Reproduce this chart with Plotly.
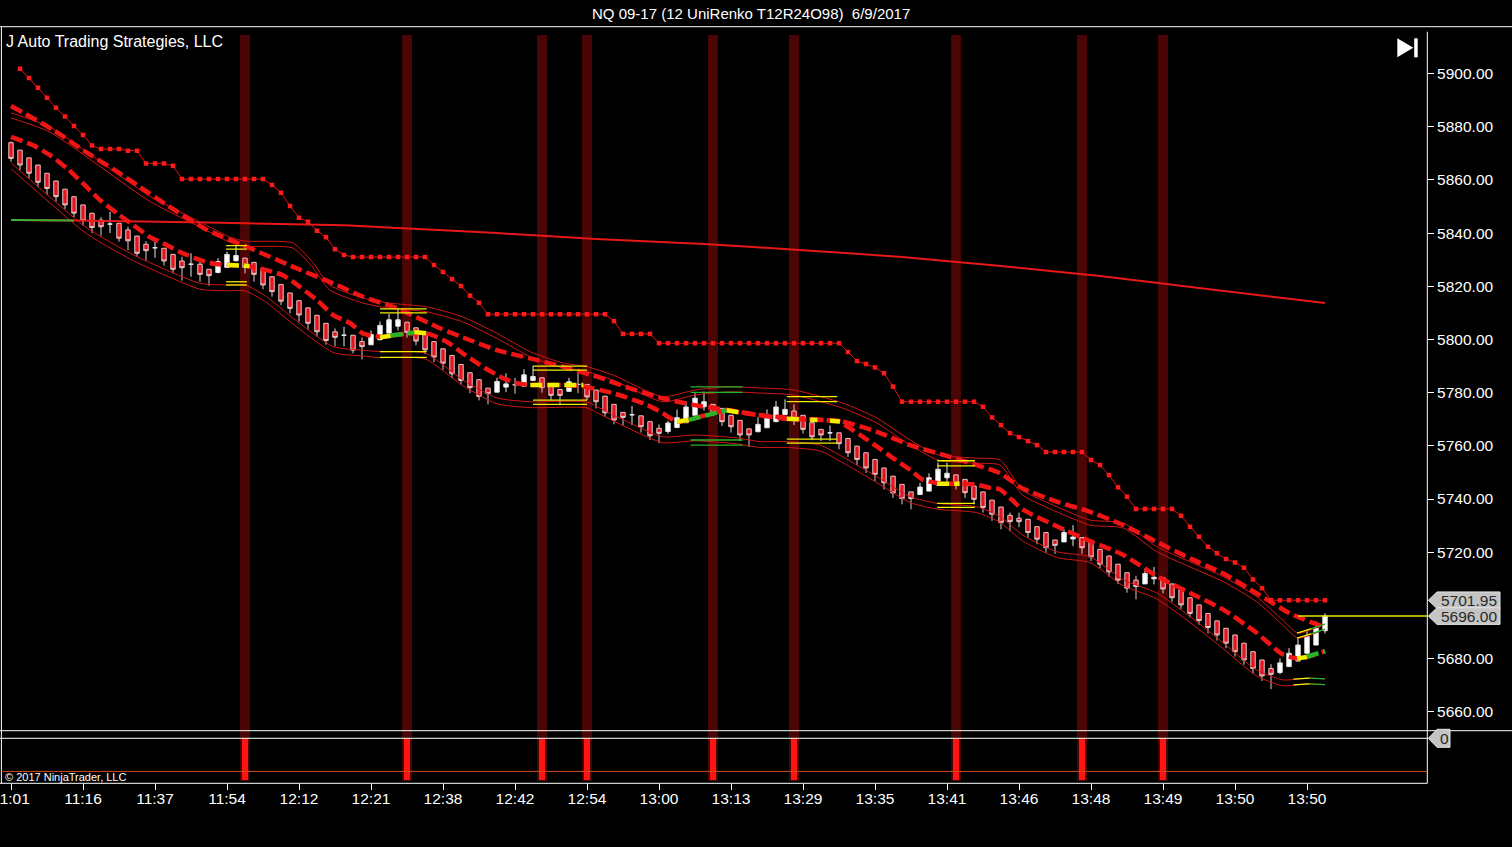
import plotly.graph_objects as go

# ------------------------------------------------------------------ data
OPEN = [5874.0, 5871.2, 5868.3, 5865.6, 5862.5, 5859.6, 5856.5, 5853.7, 5850.6, 5847.5,
        5844.9, 5843.4, 5843.7, 5841.2, 5838.9, 5835.8, 5834.5, 5834.3, 5832.0, 5829.5,
        5828.3, 5828.3, 5826.4, 5825.2, 5827.1, 5829.6, 5830.6, 5829.0, 5826.7, 5823.6,
        5820.7, 5817.5, 5814.6, 5811.9, 5809.1, 5806.1, 5802.9, 5801.6, 5801.6, 5799.2,
        5798.0, 5799.9, 5802.4, 5805.0, 5806.5, 5804.4, 5802.1, 5799.2, 5796.5, 5794.0,
        5790.6, 5787.5, 5784.9, 5781.7, 5780.2, 5782.1, 5783.0, 5782.4, 5784.6, 5785.6,
        5783.4, 5781.2, 5780.5, 5783.1, 5783.1, 5781.0, 5778.7, 5775.6, 5772.6, 5771.7,
        5771.3, 5769.1, 5766.6, 5765.4, 5766.9, 5768.7, 5771.5, 5774.7, 5775.6, 5774.1,
        5771.5, 5769.6, 5766.4, 5765.3, 5766.8, 5769.1, 5771.8, 5773.1, 5771.5, 5768.7,
        5766.2, 5764.9, 5764.9, 5762.8, 5759.9, 5757.4, 5754.9, 5751.7, 5748.6, 5745.5,
        5742.7, 5741.7, 5743.0, 5745.3, 5748.0, 5749.1, 5747.4, 5744.9, 5742.7, 5739.6,
        5737.0, 5733.9, 5732.8, 5732.4, 5729.6, 5727.4, 5724.6, 5723.9, 5725.0, 5725.5,
        5723.9, 5721.1, 5718.6, 5715.5, 5712.3, 5709.5, 5708.1, 5710.0, 5710.4, 5708.1,
        5705.8, 5702.9, 5700.2, 5697.0, 5694.2, 5691.4, 5688.9, 5685.8, 5682.6, 5679.5,
        5676.3, 5674.8, 5677.0, 5679.1, 5682.0, 5685.1, 5690.5]
HIGH = [5874.5, 5871.2, 5868.3, 5865.6, 5862.5, 5859.6, 5856.5, 5853.7, 5850.6, 5847.5,
        5846.0, 5848.0, 5843.7, 5842.4, 5838.9, 5837.0, 5838.0, 5834.3, 5832.0, 5831.1,
        5832.4, 5829.3, 5826.4, 5830.6, 5833.0, 5836.7, 5830.6, 5829.0, 5826.7, 5823.6,
        5820.7, 5817.5, 5814.6, 5811.9, 5809.1, 5806.1, 5804.2, 5804.8, 5801.6, 5800.8,
        5803.4, 5806.8, 5809.6, 5811.9, 5806.5, 5804.4, 5802.1, 5799.2, 5796.5, 5794.0,
        5790.6, 5787.5, 5784.9, 5781.7, 5785.6, 5787.3, 5785.6, 5788.8, 5790.1, 5785.6,
        5783.4, 5781.2, 5785.6, 5788.2, 5783.1, 5781.0, 5778.7, 5775.6, 5772.6, 5775.0,
        5771.3, 5769.1, 5768.1, 5769.4, 5773.7, 5776.6, 5779.8, 5780.4, 5775.6, 5774.1,
        5771.5, 5769.6, 5766.4, 5770.8, 5773.7, 5776.9, 5777.5, 5775.6, 5771.5, 5768.7,
        5766.2, 5767.7, 5764.9, 5762.8, 5759.9, 5757.4, 5754.9, 5751.7, 5748.6, 5745.5,
        5742.7, 5746.1, 5749.7, 5753.7, 5753.7, 5749.1, 5747.4, 5744.9, 5742.7, 5739.6,
        5737.0, 5734.9, 5734.9, 5732.4, 5729.6, 5727.4, 5724.6, 5728.6, 5730.2, 5725.5,
        5723.9, 5721.1, 5718.6, 5715.5, 5712.3, 5711.1, 5713.9, 5714.5, 5710.4, 5708.1,
        5705.8, 5702.9, 5700.2, 5697.0, 5694.2, 5691.4, 5688.9, 5685.8, 5682.6, 5679.5,
        5677.9, 5680.1, 5683.9, 5687.6, 5690.8, 5694.0, 5697.0]
LOW = [5866.8, 5863.7, 5860.7, 5857.4, 5854.3, 5851.8, 5849.0, 5846.0, 5842.8, 5840.0,
       5839.0, 5840.0, 5836.8, 5833.6, 5831.1, 5829.6, 5830.7, 5827.8, 5824.9, 5822.1,
       5823.6, 5821.7, 5820.2, 5824.9, 5827.1, 5829.3, 5824.9, 5821.7, 5818.9, 5816.1,
       5812.9, 5809.8, 5806.7, 5803.8, 5801.0, 5798.0, 5797.4, 5797.4, 5794.8, 5792.5,
       5798.0, 5799.9, 5802.4, 5803.4, 5800.7, 5797.8, 5794.6, 5791.5, 5788.6, 5785.5,
       5783.0, 5779.8, 5777.1, 5775.6, 5780.2, 5780.2, 5779.6, 5782.4, 5784.6, 5780.0,
       5777.1, 5775.2, 5780.5, 5779.8, 5777.2, 5774.1, 5770.9, 5768.1, 5767.6, 5767.8,
       5765.0, 5762.2, 5761.0, 5764.6, 5766.9, 5768.7, 5771.5, 5773.3, 5771.2, 5767.5,
       5765.0, 5761.8, 5759.6, 5765.3, 5766.8, 5769.1, 5771.8, 5767.8, 5764.6, 5762.1,
       5761.8, 5761.8, 5758.7, 5755.8, 5752.7, 5749.8, 5746.8, 5743.6, 5740.4, 5738.0,
       5736.1, 5741.7, 5743.0, 5745.3, 5746.8, 5743.6, 5740.4, 5738.0, 5734.9, 5731.8,
       5728.6, 5727.9, 5729.4, 5725.5, 5723.0, 5719.8, 5719.4, 5723.9, 5722.3, 5719.4,
       5716.7, 5714.0, 5710.8, 5708.0, 5704.8, 5702.3, 5708.1, 5707.9, 5704.5, 5701.4,
       5698.7, 5695.5, 5692.7, 5689.5, 5686.8, 5683.9, 5680.8, 5677.7, 5674.4, 5671.6,
       5668.5, 5674.1, 5677.0, 5679.1, 5682.0, 5685.1, 5689.5]
CLOSE = [5868.1, 5865.6, 5862.5, 5859.1, 5856.8, 5853.7, 5850.6, 5847.5, 5844.7, 5842.1,
         5842.4, 5843.4, 5838.1, 5837.1, 5832.4, 5833.4, 5834.5, 5829.5, 5826.4, 5827.0,
         5828.3, 5824.5, 5824.0, 5829.3, 5832.0, 5831.6, 5827.1, 5824.5, 5820.5, 5818.0,
         5814.4, 5811.7, 5809.2, 5806.1, 5802.9, 5799.6, 5800.8, 5801.6, 5796.0, 5797.3,
         5801.9, 5805.3, 5807.4, 5807.4, 5802.7, 5799.4, 5796.1, 5793.4, 5791.1, 5787.1,
         5784.6, 5781.9, 5778.6, 5779.6, 5784.2, 5783.3, 5783.0, 5786.7, 5786.1, 5781.9,
         5779.0, 5779.0, 5784.1, 5783.1, 5778.4, 5776.6, 5772.4, 5769.7, 5770.7, 5771.7,
         5767.2, 5763.8, 5764.7, 5768.6, 5770.6, 5774.6, 5777.9, 5776.6, 5772.5, 5769.1,
         5767.2, 5764.1, 5764.1, 5768.1, 5771.8, 5774.6, 5773.7, 5770.6, 5766.2, 5763.4,
         5764.1, 5764.9, 5760.8, 5757.4, 5754.9, 5751.7, 5749.3, 5746.1, 5742.3, 5740.2,
         5740.2, 5744.5, 5748.0, 5751.2, 5749.7, 5745.8, 5742.4, 5739.9, 5736.8, 5734.3,
         5731.1, 5731.5, 5731.5, 5727.4, 5724.9, 5721.7, 5722.6, 5727.4, 5725.7, 5721.7,
         5718.2, 5715.5, 5712.6, 5709.5, 5706.5, 5707.1, 5712.0, 5710.6, 5706.2, 5702.9,
         5700.2, 5697.0, 5694.3, 5691.7, 5688.9, 5685.8, 5682.6, 5679.5, 5676.3, 5673.5,
         5674.1, 5678.4, 5682.0, 5685.1, 5688.3, 5691.5, 5696.0]
BARS = list(range(len(CLOSE)))

# trailing stop (stepped, one value per bar)
STOP = [None, 5901.8, 5898.3, 5894.7, 5890.9, 5887.1, 5883.8, 5880.3, 5876.9, 5872.9,
        5871.6, 5871.6, 5871.6, 5871.0, 5871.0, 5866.2, 5866.2, 5866.2, 5865.3, 5860.3,
        5860.3, 5860.3, 5860.3, 5860.3, 5860.3, 5860.3, 5860.3, 5860.3, 5860.3, 5858.1,
        5855.2, 5850.2, 5845.8, 5844.3, 5840.9, 5838.4, 5833.9, 5831.8, 5831.0, 5831.0,
        5831.0, 5831.0, 5831.0, 5831.0, 5831.0, 5831.0, 5831.0, 5828.0, 5825.4, 5822.7,
        5820.1, 5816.5, 5813.8, 5809.5, 5809.5, 5809.5, 5809.5, 5809.5, 5809.5, 5809.5,
        5809.5, 5809.5, 5809.5, 5809.5, 5809.5, 5809.5, 5809.5, 5806.9, 5802.1, 5802.1,
        5802.1, 5802.1, 5798.6, 5798.6, 5798.6, 5798.6, 5798.6, 5798.6, 5798.6, 5798.6,
        5798.6, 5798.6, 5798.6, 5798.6, 5798.6, 5798.6, 5798.6, 5798.6, 5798.6, 5798.6,
        5798.6, 5798.6, 5798.6, 5795.3, 5791.9, 5790.8, 5789.5, 5787.3, 5782.3, 5776.6,
        5776.6, 5776.6, 5776.6, 5776.6, 5776.6, 5776.6, 5776.6, 5776.6, 5774.7, 5770.7,
        5767.8, 5764.8, 5763.3, 5761.8, 5760.3, 5757.7, 5757.7, 5757.7, 5757.7, 5757.7,
        5754.7, 5752.8, 5749.0, 5744.4, 5740.9, 5736.3, 5736.3, 5736.3, 5736.3, 5736.3,
        5733.7, 5729.6, 5725.8, 5722.1, 5719.6, 5717.5, 5716.1, 5714.2, 5709.8, 5706.5,
        5701.95, 5701.95, 5701.95, 5701.95, 5701.95, 5701.95, 5701.95]

# long moving average
SMA_BARS = [0, 7, 37, 43, 54, 65, 77, 88, 99, 110, 121, 132, 146]
SMA_VALS = [5844.9, 5844.7, 5843.0, 5841.9, 5840.0, 5837.8, 5835.9, 5833.6, 5831.0,
            5827.6, 5823.9, 5819.4, 5813.7]
SMA_GREEN_BARS = [0, 7]
SMA_GREEN_VALS = [5844.9, 5844.7]

# slow dashed average
SLOW_BARS = [0, 4.7, 8, 11.8, 14.3, 17.3, 21.8, 26.6, 31.3, 36.2, 39.1, 42.9, 47.7, 50.2,
             54, 57.7, 61.3, 65.1, 68.8, 72.4, 75.8, 79.6, 83.2, 86.9, 92.4, 96.2, 99.9,
             103.6, 107.3, 109.9, 112.4, 116.2, 119.9, 123.6, 127.3, 131, 134.7, 138.4,
             142.1, 145.8]
SLOW_VALS = [5887.8, 5878.8, 5871.2, 5863.1, 5857.4, 5850.6, 5841.2, 5834.3, 5827.4, 5820.5,
             5816.1, 5811.7, 5804.2, 5800.8, 5796.0, 5792.9, 5789.8, 5786.0, 5781.6, 5777.9,
             5775.4, 5773.5, 5771.6, 5770.4, 5769.1, 5765.3, 5760.3, 5756.6, 5752.8, 5749.7,
             5744.0, 5739.0, 5735.2, 5730.2, 5723.9, 5717.7, 5712.0, 5704.6, 5697.0, 5692.0]

# fast dashed average
FAST_BARS = [0, 2.4, 4.3, 6.2, 8, 9.9, 11.8, 13.6, 15.4, 17.3, 19.1, 21, 22.4, 24.3, 26,
             28.4, 30.2, 32.1, 34, 35.8, 37.7, 39.1, 41, 43.6, 46.2, 48.4, 50.2, 52.1, 54.7,
             56.2, 57.7, 60.7, 63.6, 66.9, 70.7, 72.4, 74, 75.3, 79.5, 81.3, 86.2, 88, 92.1,
             92.9, 94.3, 96.2, 98, 99.9, 101.3, 103.4, 104.9, 107.3, 108.8, 109.9, 112.4,
             116.2, 119.9, 123.6, 127.3, 131, 134.7, 138.4, 141.3, 142.9, 144.3, 146]
FAST_VALS = [5876.2, 5873.1, 5869.4, 5864.4, 5858.7, 5852.4, 5847.4, 5843.0, 5838.6, 5835.5,
             5832.4, 5829.9, 5828.6, 5828.0, 5827.7, 5826.1, 5824.2, 5819.8, 5814.8, 5809.2,
             5806.1, 5802.3, 5801.0, 5802.1, 5802.3, 5799.2, 5794.8, 5790.4, 5785.4, 5783.6,
             5782.9, 5782.9, 5782.3, 5779.8, 5775.4, 5772.3, 5769.1, 5769.8, 5773.4, 5772.4,
             5770.2, 5769.9, 5769.2, 5767.3, 5764.2, 5759.8, 5755.4, 5751.0, 5747.3, 5745.8,
             5745.8, 5745.4, 5744.2, 5743.6, 5736.1, 5729.8, 5724.2, 5719.0, 5711.0, 5704.7,
             5698.4, 5689.7, 5681.6, 5680.1, 5680.9, 5682.8]
FAST_YELLOW = [([24, 26.5], [5828.0, 5827.6]), ([41, 42.2], [5800.8, 5801.4]),
               ([44.8, 46.2], [5802.8, 5802.3]), ([57.7, 63.6], [5782.9, 5782.9]),
               ([74, 75.3], [5769.1, 5769.8]), ([79.5, 81.3], [5773.4, 5772.4]),
               ([86.2, 87.7], [5770.2, 5770.0]), ([88.8, 89.6], [5769.8, 5769.7]),
               ([91, 92.1], [5769.4, 5769.2]), ([102.9, 105.4], [5745.8, 5745.8]),
               ([142.9, 144.0], [5680.1, 5680.6])]
FAST_GREEN = [([42.2, 44.8], [5801.5, 5802.6]), ([75.3, 79.5], [5769.8, 5773.4]),
              ([144.0, 146], [5680.7, 5682.8])]

# upper band pair
UB_BARS = [0, 4.3, 15.4, 21, 24.3, 26, 31.3, 33.5, 35.4, 39.1, 42, 46.2, 50.2, 54, 57.7,
           61.3, 64, 66.9, 72.4, 76, 79.6, 83, 87, 92.4, 96.2, 99.9, 103, 107.3, 109.9,
           112.4, 116.2, 119.9, 123.6, 127.3, 131, 134.7, 138.4, 141.3, 143, 146]
UB1 = [5885.2, 5879.9, 5853.9, 5844.2, 5838.5, 5837.0, 5836.3, 5829.1, 5820.5, 5815.6,
       5813.7, 5812.3, 5808.5, 5802.3, 5795.4, 5791.2, 5789.8, 5786.6, 5778.5, 5781.0,
       5782.2, 5781.8, 5781.0, 5776.1, 5770.5, 5762.2, 5756.6, 5755.4, 5754.7, 5743.4,
       5737.1, 5732.1, 5731.0, 5722.1, 5716.4, 5710.8, 5703.3, 5694.5, 5689.6, 5693.0]
UB2 = [5883.3, 5878.0, 5852.0, 5842.3, 5836.6, 5835.1, 5834.4, 5827.2, 5818.6, 5813.7,
       5811.8, 5810.4, 5806.6, 5800.4, 5793.5, 5789.3, 5787.9, 5784.7, 5776.6, 5779.1,
       5780.3, 5779.9, 5779.1, 5774.2, 5768.6, 5760.3, 5754.7, 5753.5, 5752.8, 5741.5,
       5735.2, 5730.2, 5729.1, 5720.2, 5714.5, 5708.9, 5701.4, 5692.6, 5687.7, 5691.1]

# lower band pair
LB_BARS = [0, 8, 10, 13.6, 17.3, 21, 24, 26, 28.4, 31.3, 35.8, 39.1, 41, 46, 50.2, 54, 57.7,
           64, 65.1, 68.8, 72.4, 76, 80.6, 83.2, 86.2, 89.9, 92.4, 96.2, 99.9, 102.9, 107.3,
           109.9, 112.4, 116.2, 119.9, 123.6, 127.3, 131, 134.7, 138.4, 141.3, 144, 146]
LB1 = [5866.4, 5843.0, 5838.6, 5831.8, 5826.1, 5821.1, 5820.5, 5820.5, 5816.1, 5808.1,
       5797.3, 5796.0, 5795.4, 5794.9, 5784.8, 5778.0, 5776.6, 5776.5, 5774.7, 5768.5,
       5763.4, 5764.1, 5763.0, 5761.6, 5761.6, 5760.3, 5755.9, 5748.4, 5740.9, 5738.4,
       5737.1, 5733.4, 5726.5, 5720.2, 5718.3, 5709.6, 5704.7, 5695.8, 5685.9, 5675.7,
       5672.0, 5672.7, 5672.4]
LB2 = [5864.2, 5840.8, 5836.4, 5829.6, 5823.9, 5818.9, 5818.3, 5818.3, 5813.9, 5805.9,
       5795.1, 5793.8, 5793.2, 5792.7, 5782.6, 5775.8, 5774.4, 5774.3, 5772.5, 5766.3,
       5761.2, 5761.9, 5760.8, 5759.4, 5759.4, 5758.1, 5753.7, 5746.2, 5738.7, 5736.2,
       5734.9, 5731.2, 5724.3, 5718.0, 5716.1, 5707.4, 5702.5, 5693.6, 5683.7, 5673.5,
       5669.8, 5670.5, 5670.2]
BAND_END_YELLOW = [([142.9, 144.5], [5689.6, 5691.3]), ([142.9, 144.5], [5687.7, 5689.4]),
                   ([142.5, 144.3], [5672.3, 5672.7]), ([142.5, 144.3], [5670.1, 5670.5])]
BAND_END_GREEN = [([144.5, 146], [5691.3, 5693.0]), ([144.5, 146], [5689.4, 5691.1]),
                  ([144.3, 146], [5672.7, 5672.4]), ([144.3, 146], [5670.5, 5670.2])]

# consolidation boxes: start bar, end bar, two upper levels, two lower levels
BOXES_YELLOW = [(23.9, 26.2, 5835.3, 5834.0, 5821.7, 5820.5),
                (41.0, 46.2, 5811.5, 5810.0, 5795.4, 5793.3),
                (58.0, 64.0, 5790.0, 5788.5, 5777.2, 5775.6),
                (86.2, 91.8, 5778.5, 5776.6, 5762.5, 5761.0),
                (102.9, 107.1, 5754.4, 5752.5, 5738.4, 5736.9)]
BOXES_GREEN = [(75.5, 81.3, 5782.2, 5780.1, 5762.2, 5760.3)]

# signal study (lower panel)
SIGNAL_BARS = [26, 44, 59, 64, 78, 87, 105, 119, 128]
SIGNAL_VALS = [-1, -1, -1, -1, -1, -1, -1, -1, -1]
SIGNAL_LEVEL = -0.8

LAST_PRICE = 5696.00
STOP_PRICE = 5701.95

TICK_BARS = [0, 8, 16, 24, 32, 40, 48, 56, 64, 72, 80, 88, 96, 104, 112, 120, 128, 136, 144]
TICK_LABELS = ["11:01", "11:16", "11:37", "11:54", "12:12", "12:21", "12:38", "12:42", "12:54",
               "13:00", "13:13", "13:29", "13:35", "13:41", "13:46", "13:48", "13:49", "13:50",
               "13:50"]
Y_TICKS = [5660, 5680, 5720, 5740, 5760, 5780, 5800, 5820, 5840, 5860, 5880, 5900]

TITLE = "NQ 09-17 (12 UniRenko T12R24O98) \u00a06/9/2017"
SUBTITLE = "J Auto Trading Strategies, LLC"
COPYRIGHT = "\u00a9 2017 NinjaTrader, LLC"

# ------------------------------------------------------------------ geometry
FW, FH = 1512, 847
ML, MR, MT, MB = 1, 85, 27, 64
PW = FW - ML - MR
PH = FH - MT - MB


def px(x):
    return (x - ML) / PW


def py(y):
    return (FH - MB - y) / PH


MAIN_DOM = [py(730.7), 1.0]
SUB_DOM = [0.0, py(738.3)]
Y_RANGE = [5652.9, 5917.5]
SUB_RANGE = [-1.08, 0.0]
X_RANGE = [-1.111, 157.333]


def pp(p):
    return MAIN_DOM[0] + (p - Y_RANGE[0]) / (Y_RANGE[1] - Y_RANGE[0]) * (MAIN_DOM[1] - MAIN_DOM[0])


def sp(v):
    return SUB_DOM[0] + (v - SUB_RANGE[0]) / (SUB_RANGE[1] - SUB_RANGE[0]) * (SUB_DOM[1] - SUB_DOM[0])


RED = "#f01414"
BAND = "#d01616"
YEL = "#f0f000"
GRN = "#28b428"
FONT = "Liberation Sans, Arial, sans-serif"

fig = go.Figure()


def line(x, y, color, width, dash="solid", shape="linear", yaxis="y2"):
    fig.add_trace(go.Scatter(x=x, y=y, mode="lines", yaxis=yaxis, xaxis="x",
                             line=dict(color=color, width=width, dash=dash, shape=shape,
                                       smoothing=0.6),
                             hoverinfo="skip", showlegend=False))


# bands
for arr in (UB1, UB2):
    line(UB_BARS, arr, BAND, 1, shape="spline")
for arr in (LB1, LB2):
    line(LB_BARS, arr, BAND, 1, shape="spline")

# long average
line(SMA_BARS, SMA_VALS, "#e81818", 2, shape="spline")
line(SMA_GREEN_BARS, SMA_GREEN_VALS, "#38b038", 2)

# dashed averages
line(SLOW_BARS, SLOW_VALS, RED, 4.5, dash="12px,5px", shape="spline")
line(FAST_BARS, FAST_VALS, RED, 4.5, dash="12px,5px", shape="spline")
for xs, ys in FAST_YELLOW:
    line(xs, ys, YEL, 4.5, dash="12px,5px")
for xs, ys in FAST_GREEN:
    line(xs, ys, GRN, 4.5, dash="12px,5px")

# consolidation boxes
for boxes, col in ((BOXES_YELLOW, YEL), (BOXES_GREEN, GRN)):
    for b0, b1, t1, t2, l1, l2 in boxes:
        for lev in (t1, t2, l1, l2):
            line([b0, b1], [lev, lev], col, 1.3)

for xs, ys in BAND_END_YELLOW:
    line(xs, ys, YEL, 1.2)
for xs, ys in BAND_END_GREEN:
    line(xs, ys, GRN, 1.2)

# trailing stop
fig.add_trace(go.Scatter(x=BARS, y=STOP, mode="lines+markers", yaxis="y2", xaxis="x",
                         line=dict(color="#e01010", width=1),
                         marker=dict(symbol="square", size=4.5, color="#ff1a1a"),
                         hoverinfo="skip", showlegend=False, connectgaps=False))

# last price line
line([143, X_RANGE[1]], [LAST_PRICE, LAST_PRICE], "#e6e600", 1.5)

# candles
fig.add_trace(go.Candlestick(
    x=BARS, open=OPEN, high=HIGH, low=LOW, close=CLOSE, xaxis="x", yaxis="y2",
    increasing=dict(fillcolor="#ffffff", line=dict(color="#e8e8e8", width=1)),
    decreasing=dict(fillcolor="#e3141e", line=dict(color="#e8c8c8", width=1)),
    whiskerwidth=0, hoverinfo="skip", showlegend=False))

# signal histogram
fig.add_trace(go.Bar(x=SIGNAL_BARS, y=SIGNAL_VALS, xaxis="x", yaxis="y", width=0.75,
                     marker=dict(color="#ff1414", line=dict(width=0)),
                     hoverinfo="skip", showlegend=False))

# ------------------------------------------------------------------ shapes
shapes = []
for b in SIGNAL_BARS:
    shapes.append(dict(type="rect", xref="x", yref="paper", x0=b - 0.55, x1=b + 0.55,
                       y0=py(781), y1=py(35), fillcolor="rgb(74,5,5)", line=dict(width=0),
                       layer="below"))

W = dict(color="white", width=1)
shapes += [
    dict(type="line", xref="paper", yref="paper", x0=px(0), x1=px(FW), y0=py(26.7), y1=py(26.7), line=W),
    dict(type="line", xref="paper", yref="paper", x0=px(1.4), x1=px(1.4), y0=py(27), y1=py(783.3), line=W),
    dict(type="line", xref="paper", yref="paper", x0=px(0), x1=px(FW), y0=py(730.7), y1=py(730.7), line=W),
    dict(type="line", xref="paper", yref="paper", x0=px(0), x1=px(1427.3), y0=py(738.3), y1=py(738.3), line=W),
    dict(type="line", xref="paper", yref="paper", x0=px(0), x1=px(1427.3), y0=py(783.3), y1=py(783.3), line=W),
    dict(type="line", xref="paper", yref="paper", x0=px(1427.3), x1=px(1427.3), y0=py(31.7), y1=py(783.3), line=W),
    dict(type="line", xref="paper", yref="paper", x0=px(1.4), x1=px(1427.3),
         y0=sp(SIGNAL_LEVEL), y1=sp(SIGNAL_LEVEL), line=dict(color="#d24a1e", width=1)),
    # go-to-end icon
    dict(type="path", xref="paper", yref="paper",
         path=f"M {px(1397.3)} {py(38.3)} L {px(1413.3)} {py(47.8)} L {px(1397.3)} {py(57.3)} Z",
         fillcolor="white", line=dict(width=0)),
    dict(type="rect", xref="paper", yref="paper", x0=px(1414.2), x1=px(1417.7),
         y0=py(57.3), y1=py(38.3), fillcolor="white", line=dict(width=0)),
]

annotations = []


def price_tag(yc, half, x_right, text):
    tip, body = px(1428.3), px(1437)
    xr = px(x_right)
    shapes.append(dict(type="path", xref="paper", yref="paper",
                       path=f"M {tip} {yc} L {body} {yc + half} L {xr} {yc + half} "
                            f"L {xr} {yc - half} L {body} {yc - half} Z",
                       fillcolor="#c4c4c4", line=dict(color="#e4e4e4", width=1)))
    annotations.append(dict(xref="paper", yref="paper", x=(body + xr) / 2 + 0.0005, y=yc,
                            text=text, showarrow=False, xanchor="center", yanchor="middle",
                            font=dict(family=FONT, size=15.5, color="#2a2a2a")))


half_px = 8.3 / PH
price_tag(pp(STOP_PRICE), half_px, 1500, f"{STOP_PRICE:.2f}")
price_tag(pp(LAST_PRICE), half_px, 1500, f"{LAST_PRICE:.2f}")
price_tag(sp(0), 9.0 / PH, 1450, "0")

annotations += [
    dict(xref="paper", yref="paper", x=px(751), y=py(13.5), text=TITLE, showarrow=False,
         xanchor="center", yanchor="middle", font=dict(family=FONT, size=15, color="white")),
    dict(xref="paper", yref="paper", x=px(3.5), y=py(41.5), text=SUBTITLE, showarrow=False,
         xanchor="left", yanchor="middle", font=dict(family=FONT, size=16, color="white")),
    dict(xref="paper", yref="paper", x=px(2.5), y=py(777), text=COPYRIGHT, showarrow=False,
         xanchor="left", yanchor="middle", font=dict(family=FONT, size=11, color="white")),
]

fig.update_layout(
    width=FW, height=FH, margin=dict(l=ML, r=MR, t=MT, b=MB, pad=0, autoexpand=False),
    paper_bgcolor="black", plot_bgcolor="black", showlegend=False,
    font=dict(family=FONT, color="white"),
    xaxis=dict(domain=[0, 1], range=X_RANGE, anchor="y", tickmode="array", automargin=False,
               tickvals=TICK_BARS, ticktext=TICK_LABELS, ticks="outside", ticklen=6,
               tickcolor="white", tickwidth=1, tickfont=dict(family=FONT, size=15.5, color="white"),
               ticklabeloverflow="allow", ticklabelstandoff=-5,
               showgrid=False, zeroline=False, showline=False,
               rangeslider=dict(visible=False), fixedrange=True),
    yaxis=dict(domain=SUB_DOM, range=SUB_RANGE, anchor="x", showticklabels=False, ticks="",
               automargin=False,
               showgrid=False, zeroline=False, showline=False, fixedrange=True),
    yaxis2=dict(domain=MAIN_DOM, range=Y_RANGE, anchor="x", side="right", tickmode="array",
                tickvals=Y_TICKS, ticktext=[f"{v:.2f}" for v in Y_TICKS], ticks="outside",
                ticklen=6, tickcolor="white", tickwidth=1, automargin=False,
                tickfont=dict(family=FONT, size=15.5, color="white"),
                ticklabeloverflow="allow",
                showgrid=False, zeroline=False, showline=False, fixedrange=True),
    shapes=shapes, annotations=annotations, bargap=0,
)

PAGE_FIX = ("document.body.style.margin='0';document.body.style.padding='0';"
            "document.body.style.background='black';document.body.style.overflow='hidden';"
            "document.documentElement.style.background='black';")
fig.write_html("out.html", post_script=PAGE_FIX,
               config={"displayModeBar": False, "staticPlot": True})
